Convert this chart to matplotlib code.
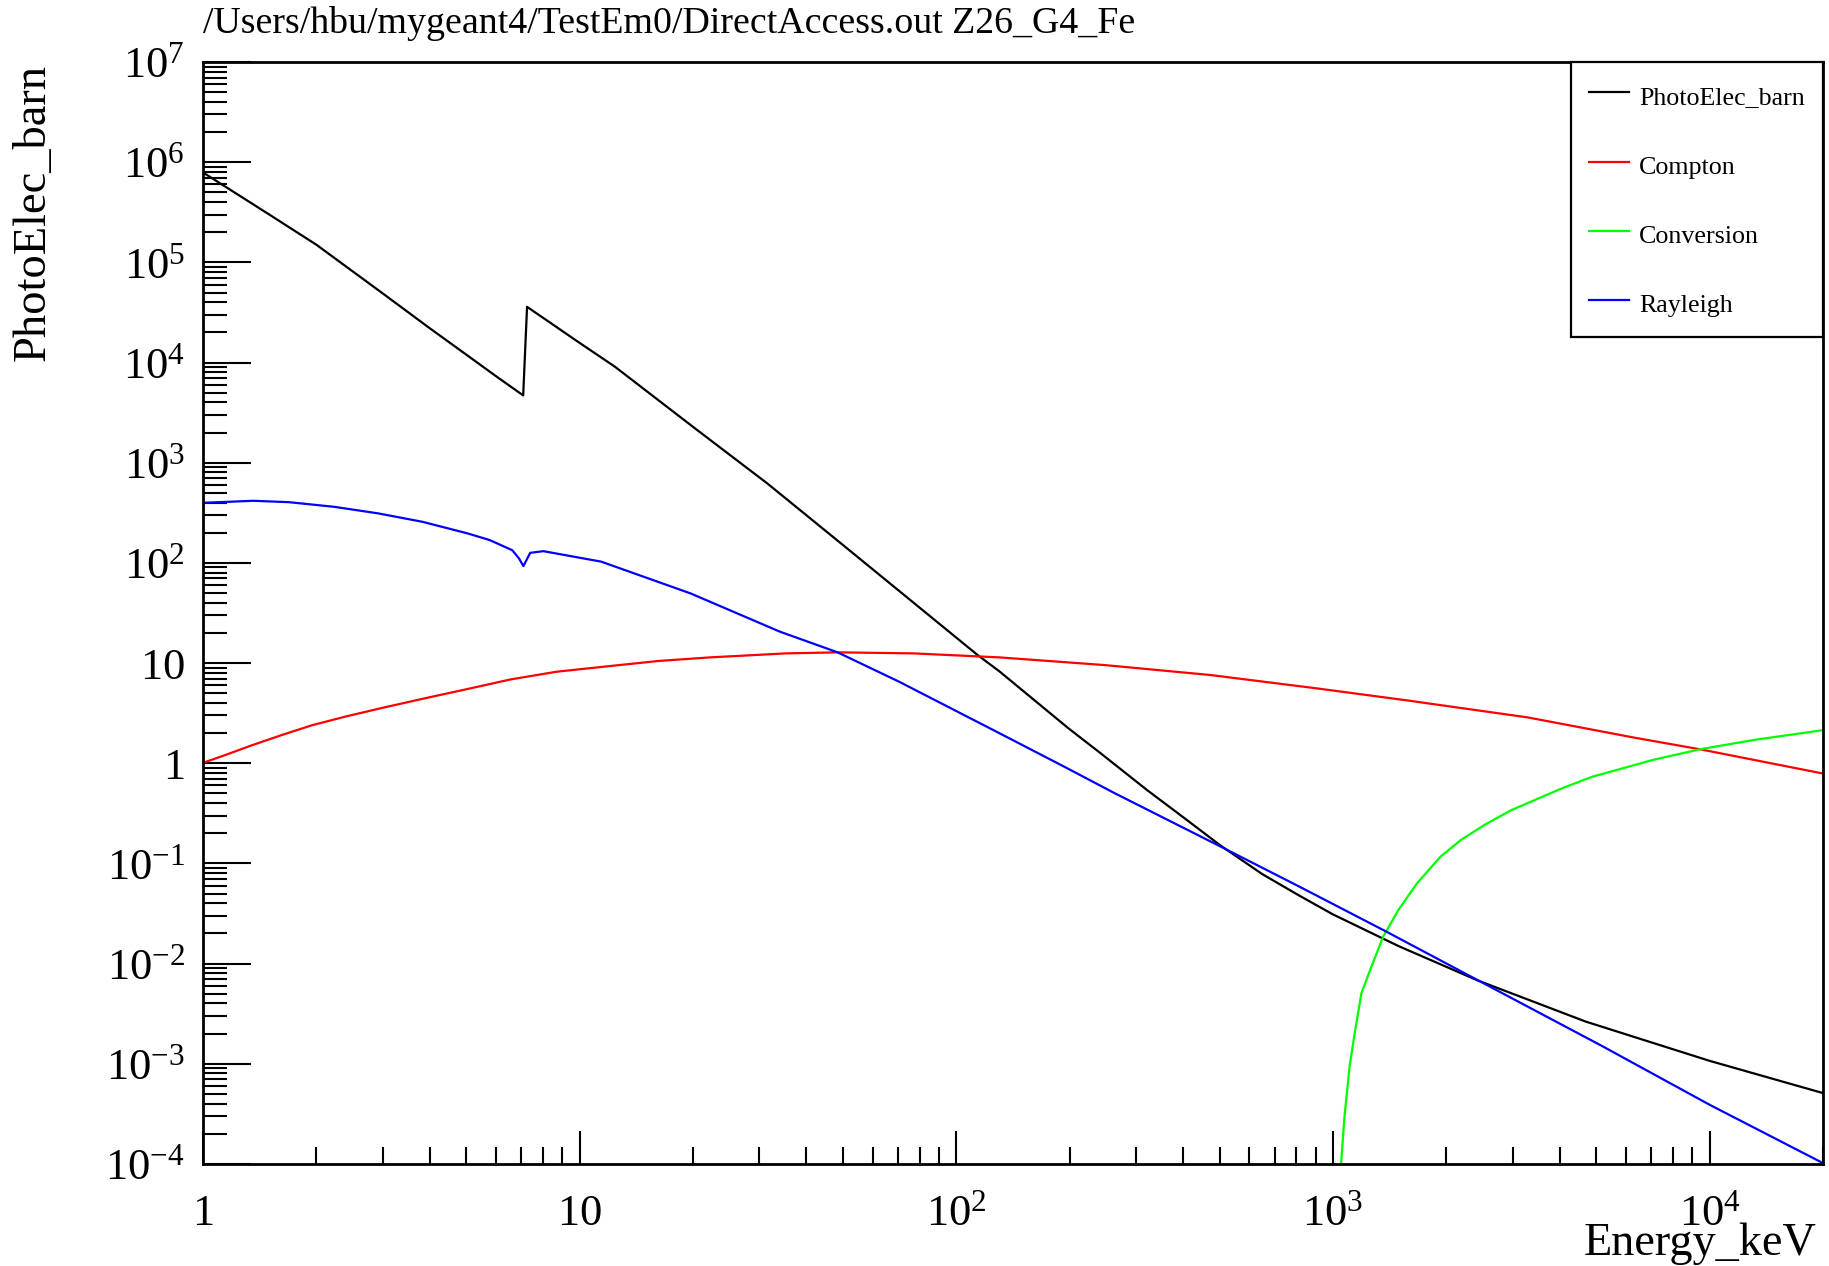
import numpy as np
import matplotlib
matplotlib.use("Agg")
import matplotlib.pyplot as plt
from matplotlib.ticker import LogLocator, FuncFormatter, NullFormatter

# ROOT-like look: Times style serif everywhere
plt.rcParams['font.family'] = ['Liberation Serif', 'DejaVu Serif']
plt.rcParams['mathtext.fontset'] = 'custom'
plt.rcParams['mathtext.rm'] = 'Liberation Serif'
plt.rcParams['mathtext.default'] = 'regular'

title = "/Users/hbu/mygeant4/TestEm0/DirectAccess.out Z26_G4_Fe"
xlabel = "Energy_keV"
ylabel = "PhotoElec_barn"

# cross sections (energy in keV, sigma in barn)
E_photo = [1, 1.5, 2, 3, 4, 5, 6, 7.08, 7.25, 10, 12.4, 20, 31.5, 50, 114, 130,
           198, 239, 321, 400, 504, 650, 812, 1000, 1374, 1497, 2421, 4686,
           10000, 20000]
photo = [7.9e5, 3.0e5, 1.5e5, 4.9e4, 2.2e4, 1.2e4, 7.3e3, 4.7e3, 3.6e4, 1.57e4,
         9.1e3, 2.28e3, 621, 151, 12.0, 8.3, 2.25, 1.3, 0.54, 0.29, 0.150,
         0.078, 0.048, 0.031, 0.0174, 0.0149, 6.8e-3, 2.64e-3, 1.07e-3, 5.1e-4]

E_compton = [1, 1.147, 1.34, 1.616, 1.95, 2.42, 3.02, 3.87, 4.97, 6.57, 8.69,
             11.9, 16.2, 22.2, 35.3, 48.5, 76.9, 130, 248, 473, 903, 1553,
             3287, 4227, 6270, 9520, 20000]
compton = [1.01, 1.21, 1.50, 1.91, 2.4, 2.96, 3.6, 4.44, 5.45, 6.88, 8.2,
           9.3, 10.5, 11.4, 12.5, 12.8, 12.5, 11.4, 9.55, 7.6, 5.6, 4.27,
           2.87, 2.40, 1.81, 1.37, 0.79]

E_conv = [1040, 1051, 1073, 1107, 1142, 1190, 1265, 1359, 1492, 1671, 1931,
          2184, 2524, 2977, 3439, 4055, 4877, 5875, 7070, 9440, 13130, 20000]
conv = [2e-5, 1.0e-4, 2.97e-4, 9.4e-4, 2.01e-3, 5.06e-3, 9.3e-3, 0.0185, 0.0343,
        0.0632, 0.117, 0.171, 0.242, 0.341, 0.43, 0.562, 0.733, 0.89, 1.08,
        1.38, 1.71, 2.14]

E_rayl = [1, 1.36, 1.69, 2.23, 2.92, 3.83, 5.04, 5.77, 6.62, 6.9, 7.09, 7.39,
          8.01, 11.4, 19.7, 34, 48.4, 70.6, 130, 195, 264, 504, 812, 1388,
          2421, 5190, 10000, 20000]
rayl = [398, 417, 404, 363, 312, 257, 197, 169, 134, 111, 93, 126, 131, 103,
        49.6, 20.6, 12.8, 6.5, 2.0, 0.91, 0.50, 0.147, 0.059, 0.0208, 6.85e-3,
        1.5e-3, 3.9e-4, 1.02e-4]

fig, ax = plt.subplots(figsize=(18.29, 12.66), dpi=100)
fig.subplots_adjust(left=0.111, right=0.9967, bottom=0.0806, top=0.951)

lw = 1.6
ax.plot(E_photo, photo, color='black', lw=lw, label='PhotoElec_barn')
ax.plot(E_compton, compton, color='#ff0000', lw=lw, label='Compton')
ax.plot(E_conv, conv, color='#00ff00', lw=lw, label='Conversion')
ax.plot(E_rayl, rayl, color='#0000ff', lw=lw, label='Rayleigh')

ax.set_xscale('log')
ax.set_yscale('log')
ax.set_xlim(1, 2e4)
ax.set_ylim(1e-4, 1e7)


def root_fmt(v, pos):
    e = int(round(np.log10(v)))
    if e == 0:
        return r'$\mathdefault{1}$'
    if e == 1:
        return r'$\mathdefault{10}$'
    return r'$\mathdefault{10^{%d}}$' % e


for axis in (ax.xaxis, ax.yaxis):
    axis.set_major_locator(LogLocator(base=10, numticks=30))
    axis.set_minor_locator(LogLocator(base=10, subs=np.arange(2, 10), numticks=30))
    axis.set_major_formatter(FuncFormatter(root_fmt))
    axis.set_minor_formatter(NullFormatter())

for s in ax.spines.values():
    s.set_linewidth(2.0)

ax.tick_params(which='both', direction='in', top=False, right=False, width=1.5)
ax.tick_params(axis='x', which='major', length=23.8, pad=44, labelsize=32)
ax.tick_params(axis='x', which='minor', length=12.2)
ax.tick_params(axis='y', which='major', length=34.6, pad=13, labelsize=32)
ax.tick_params(axis='y', which='minor', length=17.3)
for lab in ax.get_xticklabels():
    lab.set_verticalalignment('baseline')

ax.set_title(title, loc='left', pad=20.9, fontsize=27.3)
ax.set_xlabel(xlabel, fontsize=33.3, ha='right', va='baseline')
ax.xaxis.set_label_coords(0.9963, -0.0826)
ax.set_ylabel(ylabel, fontsize=33.5, ha='right', va='baseline')
ax.yaxis.set_label_coords(-0.0975, 0.998)

leg = ax.legend(loc='upper right', bbox_to_anchor=(1, 1), borderaxespad=0,
                fancybox=False, edgecolor='black', framealpha=1, fontsize=18.7,
                handlelength=1.54, handletextpad=0.38, handleheight=1.45,
                labelspacing=1.48, borderpad=0.7)
leg.get_frame().set_linewidth(1.6)

fig.savefig('out.png', dpi=100)
